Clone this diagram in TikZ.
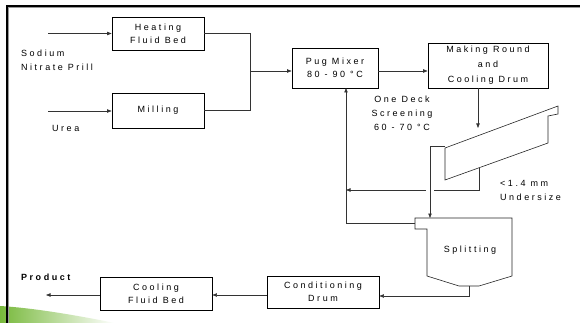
\documentclass[tikz,border=0pt]{standalone}
\usepackage{fontspec}
\setmainfont{Liberation Sans}[LetterSpace=28]
\usetikzlibrary{arrows.meta}
\definecolor{swoosh}{RGB}{120,185,60}
\begin{document}
\begin{tikzpicture}[x=1pt,y=-1pt,
  box/.style={draw=black,line width=0.7pt,rectangle,inner sep=0pt,align=center,font=\fontsize{9}{13}\selectfont},
  lbl/.style={inner sep=0pt,font=\fontsize{9}{14}\selectfont},
  conn/.style={draw=black!80,line width=0.6pt},
  arr/.style={conn,-{Triangle[length=4.5pt,width=3.4pt]}},
  shp/.style={draw=black!85,line width=0.6pt}]
\useasboundingbox (0,0) rectangle (580,323);
% background decoration
\shade[left color=swoosh, right color=white, shading angle=90]
  (0,323) -- (0,306) .. controls (35,308) and (80,316) .. (115,323) -- cycle;
\draw[line width=1.6pt,black] (7,323) -- (7,6) -- (580,6);
\draw[line width=0.6pt,black!40] (8.6,323) -- (8.6,7.2) -- (580,7.2);

% boxes
\node[box,minimum width=92,minimum height=33] (heat) at (158,33.5) {Heating\\Fluid Bed};
\node[box,minimum width=92,minimum height=35] (mill) at (158,110.5) {Milling};
\node[box,minimum width=86,minimum height=40] (pug) at (335,68) {Pug Mixer\\80 - 90 °C};
\node[box,minimum width=120,minimum height=45,font=\fontsize{9}{15}\selectfont] (make) at (488,65.5) {Making Round\\and\\Cooling Drum};
\node[box,minimum width=112,minimum height=32] (cond) at (323,292) {Conditioning\\Drum};
\node[box,minimum width=112,minimum height=33] (cool) at (156,293.5) {Cooling\\Fluid Bed};

% labels
\node[lbl,align=left,anchor=west] (sodium) at (21,60) {Sodium\\Nitrate Prill};
\node[lbl,anchor=west] (urea) at (52,128) {Urea};
\node[lbl,align=center] (screen) at (402,113.5) {One Deck\\Screening\\60 - 70 °C};
\node[lbl,align=left,anchor=west] (under) at (500,190) {<1.4 mm\\Undersize};
\node[lbl] (split) at (470,250) {Splitting};
\node[lbl,anchor=west,font=\fontsize{9}{14}\bfseries] (prod) at (21,277) {Product};

% feed arrows
\coordinate (sIn) at (48,33.5);
\coordinate (uIn) at (48,111);
\draw[arr] (sIn) -- (heat.west);
\draw[arr] (uIn) -- (uIn -| mill.west);

% merge to pug mixer
\coordinate (j) at (250,71);
\draw[conn] (heat.east) -- (heat.east -| j) -- (mill.east -| j) -- (mill.east);
\draw[arr] (j) -- (j -| pug.west);
\draw[arr] (pug.east |- j) -- (make.west |- j);

% making round to screen
\coordinate (mk1) at (478,88);
\coordinate (mk2) at (478,128);
\draw[arr] (mk1) -- (mk2);

% screen deck
\coordinate (sc1) at (445,148);
\coordinate (sc2) at (558,106);
\coordinate (sc3) at (558,114);
\coordinate (sc4) at (548,116);
\coordinate (sc5) at (548,143);
\coordinate (sc6) at (445,180);
% undersize
\coordinate (u1) at (479,168);
\coordinate (u2) at (479,190);
\coordinate (u3) at (346,190);
\draw[arr] (u1) -- (u2) -- (u3);
% gap in undersize line where oversize crosses
\coordinate (ov1) at (445,146);
\coordinate (ov2) at (430,146);
\coordinate (ov3) at (430,218);
\draw[white,line width=3pt] ([xshift=-4pt]ov2 |- u2) -- ([xshift=4pt]ov2 |- u2);
\draw[arr] (ov1) -- (ov2) -- (ov3);
\draw[shp,fill=white] (sc1) -- (sc2) -- (sc3) -- (sc4) -- (sc5) -- (sc6) -- cycle;

% splitting hopper
\coordinate (h1) at (415,218);
\coordinate (h2) at (512,218);
\coordinate (h3) at (512,276);
\coordinate (h4) at (479,286);
\coordinate (h5) at (459,286);
\coordinate (h6) at (427,276);
\coordinate (h7) at (427,229);
\coordinate (h8) at (415,229);
\draw[shp] (h1) -- (h2) -- (h3) -- (h4) -- (h5) -- (h6) -- (h7) -- (h8) -- cycle;

% recycle to pug mixer
\coordinate (r1) at (415,223);
\coordinate (r2) at (346,223);
\coordinate (r3) at (346,88);
\draw[arr] (r1) -- (r2) -- (r3);

% outlet to conditioning drum
\coordinate (o1) at (469,286);
\coordinate (o2) at (469,296);
\draw[arr] (o1) -- (o2) -- (o2 -| cond.east);
\draw[arr] ([yshift=-3pt]cond.west) -- ([yshift=-3pt]cond.west -| cool.east);
\coordinate (pEnd) at (46,295);
\draw[arr] (cool.west |- pEnd) -- (pEnd);
\end{tikzpicture}
\end{document}
